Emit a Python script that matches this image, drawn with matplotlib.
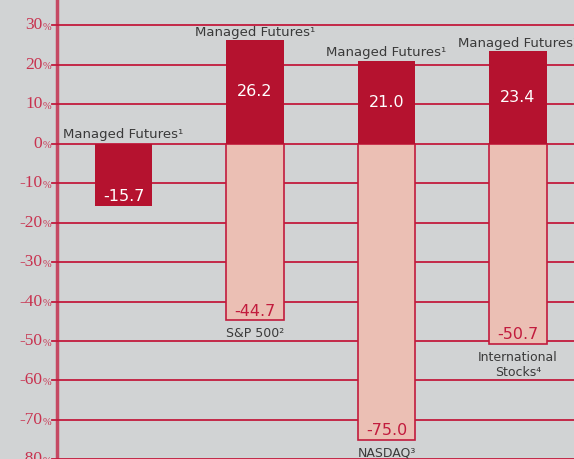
import matplotlib.pyplot as plt

# data
managed = [-15.7, 26.2, 21.0, 23.4]
managed_labels = ['Managed Futures¹'] * 4
compare = [None, -44.7, -75.0, -50.7]
compare_labels = [None, 'S&P 500²', 'NASDAQ³', 'International\nStocks⁴']
yticks = [30, 20, 10, 0, -10, -20, -30, -40, -50, -60, -70, -80]

bg = '#d1d3d4'
dark = '#b5122f'
pink = '#ebbfb4'
grid = '#c21b3d'
txt = '#3a3a3a'
sans = 'DejaVu Sans'

fig = plt.figure(figsize=(5.74, 4.59), dpi=100, facecolor=bg)
ax = fig.add_axes([57 / 574, 0, 1 - 57 / 574, 1])
ax.set_facecolor(bg)
ax.set_xlim(-0.506, 3.426)
ax.set_ylim(-79.9, 36.4)

for v in yticks:
    ax.axhline(v, color=grid, lw=1.3, zorder=1)
ax.axvline(-0.506, color=grid, lw=2.5, alpha=0.75, zorder=1, clip_on=False)

w = 0.435
x = range(len(managed))
for i in x:
    c = compare[i]
    if c is not None:
        ax.bar(i, c, width=w, color=pink, edgecolor=grid, lw=1.2, zorder=2)
        ax.text(i, c + 1.1, f'{c:.1f}', ha='center', va='baseline', color=grid,
                fontsize=11.5, family=sans, zorder=4)
        ax.text(i, c - 1.8, compare_labels[i], ha='center', va='top', color=txt,
                fontsize=9, family=sans, linespacing=1.2, zorder=4)
    m = managed[i]
    ax.bar(i, m, width=w, color=dark, lw=0, zorder=3)
    if m >= 0:
        ax.text(i, m / 2, f'{m:.1f}', ha='center', va='center', color='white',
                fontsize=11.5, family=sans, zorder=4)
        ax.text(i, m + 1.2, managed_labels[i], ha='center', va='baseline', color=txt,
                fontsize=9.5, family=sans, zorder=4)
    else:
        ax.text(i, m + 1.1, f'{m:.1f}', ha='center', va='baseline', color='white',
                fontsize=11.5, family=sans, zorder=4)
        ax.text(i, 1.5, managed_labels[i], ha='center', va='baseline', color=txt,
                fontsize=9.5, family=sans, zorder=4)

# y tick labels: number plus small percent sign
ax.set_yticks([])
ax.set_xticks([])
for s in ax.spines.values():
    s.set_visible(False)
tr = ax.get_yaxis_transform()
for v in yticks:
    ax.annotate(f'{v}', xy=(0, v), xycoords=tr, xytext=(-10.5, 0), textcoords='offset points',
                ha='right', va='center', color='#c8324f', fontsize=12.5,
                family=['Liberation Serif', 'DejaVu Serif'], annotation_clip=False)
    ax.annotate('%', xy=(0, v), xycoords=tr, xytext=(-10.5, -1.5), textcoords='offset points',
                ha='left', va='center', color='#c8324f', fontsize=7.5,
                family=['Liberation Serif', 'DejaVu Serif'], annotation_clip=False)
    ax.plot([-0.545, -0.506], [v, v], color=grid, lw=1.3, clip_on=False)

fig.savefig('out.png', dpi=100, facecolor=bg)
